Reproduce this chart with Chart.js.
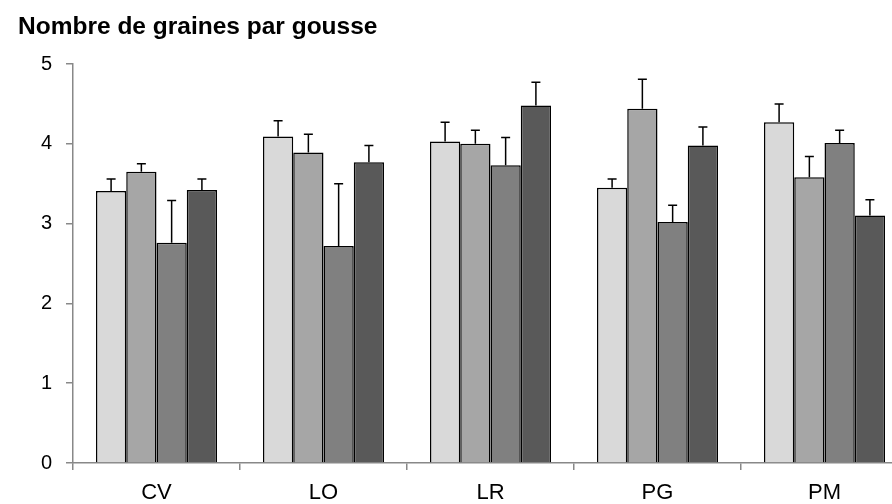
<!DOCTYPE html>
<html>
<head>
<meta charset="utf-8">
<script src="https://cdn.jsdelivr.net/npm/chart.js@4.4.1/dist/chart.umd.min.js"></script>
<style>
    html, body { margin: 0; padding: 0; background: #fff; }
    #wrap { width: 892px; height: 504px; overflow: hidden; position: relative; }
</style>
</head>
<body>
<div id="wrap">
    <canvas id="myBarChart" width="930" height="504"></canvas>
</div>
<script>
// Categories
var categories = ['CV', 'LO', 'LR', 'PG', 'PM'];

// Mean values per series
var serie1 = [3.41, 4.09, 4.03, 3.45, 4.27];
var serie2 = [3.65, 3.89, 4.00, 4.44, 3.58];
var serie3 = [2.76, 2.72, 3.73, 3.02, 4.01];
var serie4 = [3.42, 3.77, 4.48, 3.98, 3.10];

// Error (upper part only)
var erreur1 = [0.15, 0.20, 0.24, 0.11, 0.23];
var erreur2 = [0.10, 0.23, 0.17, 0.37, 0.26];
var erreur3 = [0.53, 0.78, 0.35, 0.21, 0.16];
var erreur4 = [0.14, 0.21, 0.29, 0.23, 0.20];

var yTicks = [0, 1, 2, 3, 4, 5];

var couleurs = ['#d9d9d9', '#a6a6a6', '#808080', '#595959'];
var series = [serie1, serie2, serie3, serie4];
var erreurs = [erreur1, erreur2, erreur3, erreur4];

var datasets = [];
for (var i = 0; i < series.length; i++) {
    datasets.push({
        data: series[i],
        erreur: erreurs[i],
        backgroundColor: couleurs[i],
        borderColor: '#000',
        borderWidth: 1.5,
        categoryPercentage: 0.725,
        barPercentage: 1.0
    });
}

// Error bars drawn from bar top upward
var errorBars = {
    id: 'errorBars',
    afterDatasetsDraw: function (chart) {
        var ctx = chart.ctx;
        var yScale = chart.scales.y;
        ctx.save();
        ctx.strokeStyle = '#000';
        ctx.lineWidth = 1.5;
        chart.data.datasets.forEach(function (ds, di) {
            var meta = chart.getDatasetMeta(di);
            meta.data.forEach(function (bar, j) {
                var v = ds.data[j];
                var top = yScale.getPixelForValue(v + ds.erreur[j]);
                var base = yScale.getPixelForValue(v);
                ctx.beginPath();
                ctx.moveTo(bar.x, base);
                ctx.lineTo(bar.x, top);
                ctx.moveTo(bar.x - 4.5, top);
                ctx.lineTo(bar.x + 4.5, top);
                ctx.stroke();
            });
        });
        ctx.restore();
    }
};

var ctx = document.getElementById('myBarChart').getContext('2d');
var myBarChart = new Chart(ctx, {
    type: 'bar',
    data: {
        labels: categories,
        datasets: datasets
    },
    options: {
        responsive: false,
        animation: false,
        layout: { padding: { left: 18, right: 22, top: 0, bottom: 0 } },
        plugins: {
            legend: { display: false },
            tooltip: { enabled: false },
            title: {
                display: true,
                text: 'Nombre de graines par gousse',
                align: 'start',
                color: '#000',
                font: { family: "'Liberation Sans', Arial, sans-serif", size: 24.5, weight: 'bold' },
                padding: { top: 13, bottom: 21.6 }
            }
        },
        scales: {
            x: {
                grid: { offset: true, drawOnChartArea: false, drawTicks: true, tickLength: 7, color: '#888', lineWidth: 1.5 },
                border: { color: '#888', width: 1.5 },
                ticks: {
                    color: '#000',
                    padding: 10,
                    font: { family: "'Liberation Sans', Arial, sans-serif", size: 22 }
                },
                afterFit: function (scale) { scale.height = 41; }
            },
            y: {
                min: 0,
                max: 5,
                afterBuildTicks: function (scale) {
                    scale.ticks = yTicks.map(function (v) { return { value: v }; });
                },
                grid: { drawOnChartArea: false, drawTicks: true, tickLength: 7, color: '#888', lineWidth: 1.5 },
                border: { color: '#888', width: 1.5 },
                ticks: {
                    color: '#000',
                    padding: 14,
                    font: { family: "'Liberation Sans', Arial, sans-serif", size: 20 }
                },
                afterFit: function (scale) { scale.width = 55; }
            }
        }
    },
    plugins: [errorBars]
});
</script>
</body>
</html>
